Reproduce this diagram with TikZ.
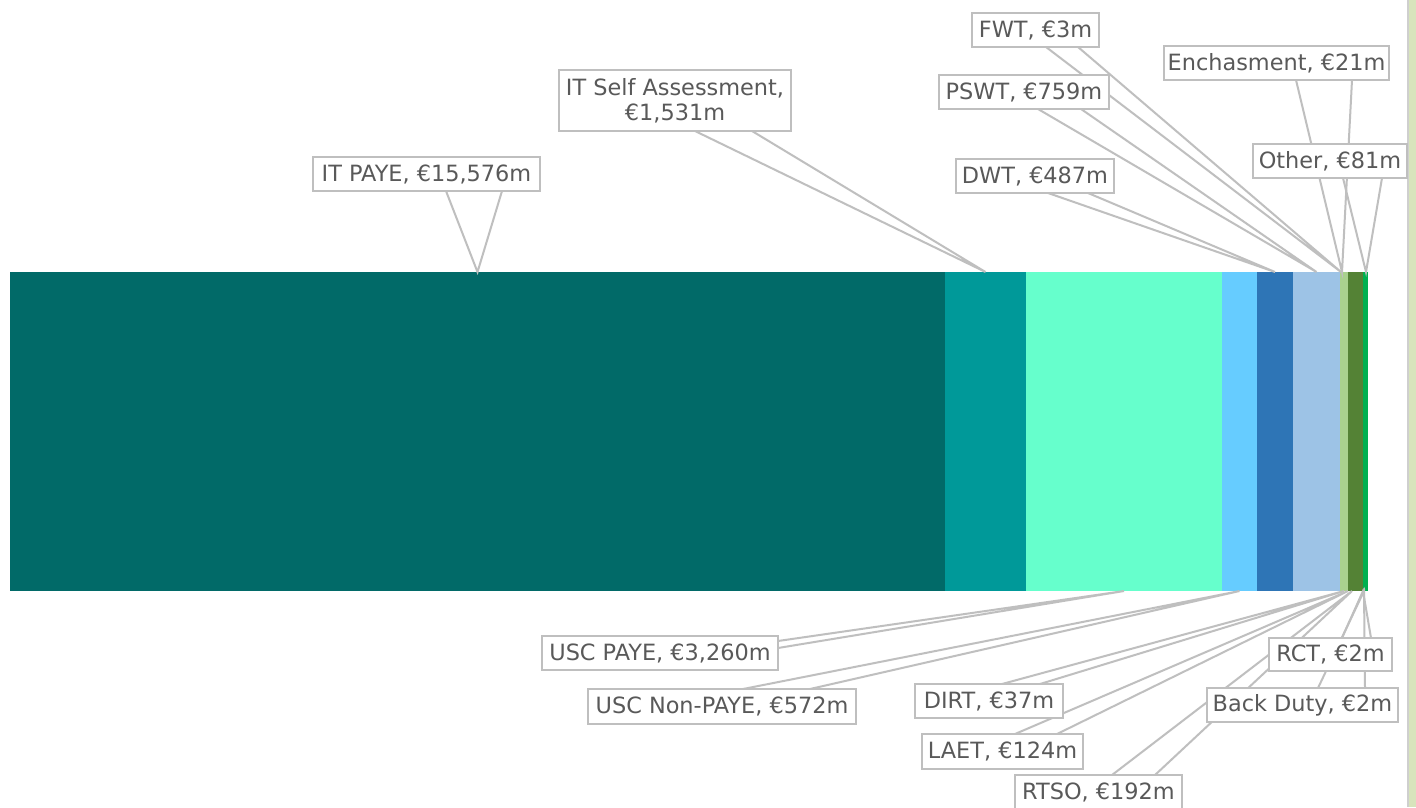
\documentclass[tikz,border=0pt]{standalone}
\usepackage{fontspec}
\newfontfamily\labfont{DejaVu Sans}
\definecolor{cPAYE}{HTML}{016A68}
\definecolor{cSA}{HTML}{009999}
\definecolor{cUSC}{HTML}{66FFCC}
\definecolor{cNP}{HTML}{66CCFF}
\definecolor{cDWT}{HTML}{2E75B6}
\definecolor{cPSWT}{HTML}{9DC3E6}
\definecolor{cLG}{HTML}{A9D18E}
\definecolor{cDG}{HTML}{548235}
\definecolor{cBG}{HTML}{00B050}
\definecolor{lgrey}{HTML}{BFBFBF}
\definecolor{tgrey}{HTML}{595959}
\definecolor{strip}{HTML}{D8E4BC}
\definecolor{stripedge}{HTML}{CFCFCF}
\tikzset{
  seg/.style={draw=none, inner sep=0pt, outer sep=0pt, minimum height=239.25pt},
  callout/.style={draw=lgrey, line width=1.5pt, fill=white, text=tgrey, inner sep=0pt,
    outer sep=0pt, align=center, font=\labfont\fontsize{16.8}{18.5}\selectfont},
  cline/.style={draw=lgrey, line width=1.5pt, line join=miter}
}
\begin{document}
\begin{tikzpicture}[x=0.75pt, y=-0.75pt]
\useasboundingbox (0,0) rectangle (1416,807);
\clip (0,0) rectangle (1416,807);
\fill[white] (0,0) rectangle (1416,807);
% right edge strip
\fill[strip] (1409,0) rectangle (1416,807);
\draw[stripedge, line width=1.5pt] (1408,0) -- (1408,807);

% bar segments
\node[seg, fill=cPAYE, minimum width=701.25pt] (sPAYE) at (477.5,431.5) {};
\node[seg, fill=cSA, minimum width=60.75pt] (sSA) at (985.5,431.5) {};
\node[seg, fill=cUSC, minimum width=147pt] (sUSC) at (1124,431.5) {};
\node[seg, fill=cNP, minimum width=26.25pt] (sNP) at (1239.5,431.5) {};
\node[seg, fill=cDWT, minimum width=27pt] (sDWT) at (1275,431.5) {};
\node[seg, fill=cPSWT, minimum width=35.25pt] (sPSWT) at (1316.5,431.5) {};
\node[seg, fill=cLG, minimum width=6pt] (sLG) at (1344,431.5) {};
\node[seg, fill=cDG, minimum width=11.25pt] (sDG) at (1355.5,431.5) {};
\node[seg, fill=cBG, minimum width=3.75pt] (sBG) at (1365.5,431.5) {};

% target points for small segments
\coordinate (tFWT) at (1341,272);
\coordinate (tEnc) at (1342,272);
\coordinate (tOth) at (1366,272);
\coordinate (tDIRT) at (1344,591);
\coordinate (tLAET) at (1348,591);
\coordinate (tRTSO) at (1352,591);
\coordinate (tRCT) at (1363,591);
\coordinate (tBack) at (1364,591);

% callout base points
\coordinate (payeL) at (446,191);   \coordinate (payeR) at (502,191);
\coordinate (saL) at (695,131);     \coordinate (saR) at (752,131);
\coordinate (fwtL) at (1046,47);    \coordinate (fwtR) at (1078,47);
\coordinate (pswtL) at (1038,109);  \coordinate (pswtR) at (1081,109);
\coordinate (dwtL) at (1048,193);   \coordinate (dwtR) at (1088,193);
\coordinate (encL) at (1296,80);    \coordinate (encR) at (1352,80);
\coordinate (othL) at (1343,178);   \coordinate (othR) at (1382,178);
\coordinate (uscA) at (778,641);    \coordinate (uscB) at (778,648);
\coordinate (npL) at (743,689);     \coordinate (npR) at (810,689);
\coordinate (dirtL) at (1002,684);  \coordinate (dirtR) at (1040,684);
\coordinate (laetL) at (1015,734);  \coordinate (laetR) at (1057,734);
\coordinate (rtsoL) at (1112,775);  \coordinate (rtsoR) at (1155,775);
\coordinate (rctL) at (1342,638);   \coordinate (rctR) at (1371,638);
\coordinate (backL) at (1318,688);  \coordinate (backR) at (1365,688);

% connectors
\draw[cline] (payeL) -- (sPAYE.north) -- (payeR);
\draw[cline] (saL) -- (sSA.north) -- (saR);
\draw[cline] (fwtL) -- (tFWT) -- (fwtR);
\draw[cline] (pswtL) -- (sPSWT.north) -- (pswtR);
\draw[cline] (dwtL) -- (sDWT.north) -- (dwtR);
\draw[cline] (encL) -- (tEnc) -- (encR);
\draw[cline] (othL) -- (tOth) -- (othR);
\draw[cline] (uscA) -- (sUSC.south) -- (uscB);
\draw[cline] (npL) -- (sNP.south) -- (npR);
\draw[cline] (dirtL) -- (tDIRT) -- (dirtR);
\draw[cline] (laetL) -- (tLAET) -- (laetR);
\draw[cline] (rtsoL) -- (tRTSO) -- (rtsoR);
\draw[cline] (backL) -- (tBack) -- (backR);
\draw[cline] (rctL) -- (tRCT) -- (rctR);

% callout boxes
\node[callout, minimum width=170.25pt, minimum height=25.5pt] (bPAYE) at (426.5,174) {IT PAYE, €15,576m};
\node[callout, minimum width=174pt, minimum height=45.75pt] (bSA) at (675,100.5) {IT Self Assessment,\\€1,531m};
\node[callout, minimum width=95.25pt, minimum height=25.5pt] (bFWT) at (1035.5,30) {FWT, €3m};
\node[callout, minimum width=127.5pt, minimum height=25.5pt] (bPSWT) at (1024,92) {PSWT, €759m};
\node[callout, minimum width=118.5pt, minimum height=25.5pt] (bDWT) at (1035,176) {DWT, €487m};
\node[callout, minimum width=168.75pt, minimum height=25.5pt] (bEnc) at (1276.5,63) {Enchasment, €21m};
\node[callout, minimum width=115.5pt, minimum height=25.5pt] (bOth) at (1330,161) {Other, €81m};
\node[callout, minimum width=177pt, minimum height=25.5pt] (bUSC) at (660,653) {USC PAYE, €3,260m};
\node[callout, minimum width=201pt, minimum height=26.25pt] (bNP) at (722,706.5) {USC Non-PAYE, €572m};
\node[callout, minimum width=111pt, minimum height=25.5pt] (bDIRT) at (989,701) {DIRT, €37m};
\node[callout, minimum width=120.75pt, minimum height=26.25pt] (bLAET) at (1002.5,751.5) {LAET, €124m};
\node[callout, minimum width=125.25pt, minimum height=25.5pt] (bRTSO) at (1098.5,792) {RTSO, €192m};
\node[callout, minimum width=92.25pt, minimum height=24.75pt] (bRCT) at (1330.5,654.5) {RCT, €2m};
\node[callout, minimum width=143.25pt, minimum height=25.5pt] (bBack) at (1302.5,705) {Back Duty, €2m};
\end{tikzpicture}
\end{document}
